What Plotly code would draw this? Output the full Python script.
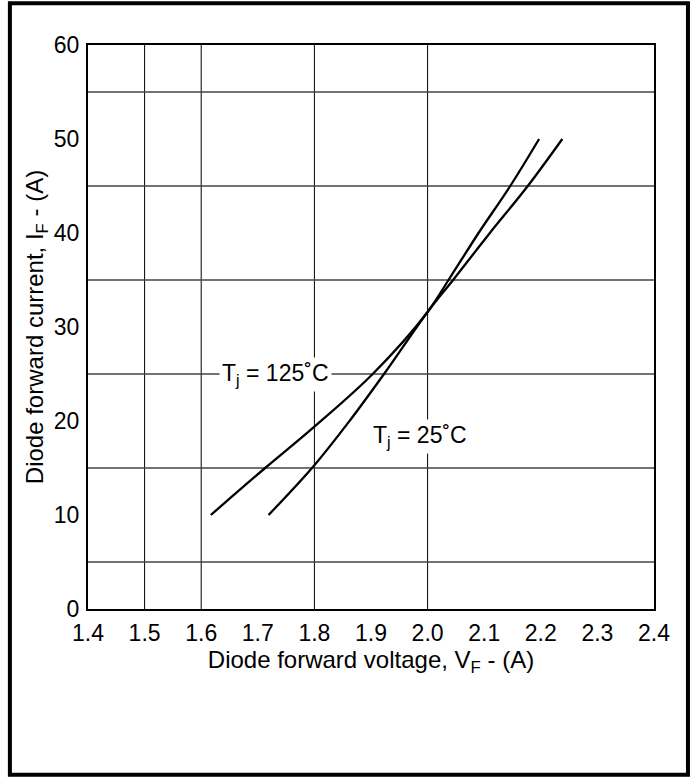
import plotly.graph_objects as go

# 125 C curve
v_125 = [1.617, 1.713, 1.800, 1.903, 2.000, 2.037, 2.090, 2.146, 2.197]
i_125 = [10.0, 15.0, 19.4, 25.0, 31.6, 35.0, 40.0, 45.0, 50.0]

# 25 C curve
v_25 = [1.719, 1.800, 1.862, 1.923, 2.000, 2.045, 2.110, 2.177, 2.238]
i_25 = [10.0, 15.3, 20.0, 25.0, 31.6, 35.0, 40.0, 45.0, 50.0]

x_ticks = [1.4, 1.5, 1.6, 1.7, 1.8, 1.9, 2.0, 2.1, 2.2, 2.3, 2.4]
y_ticks = [0, 10, 20, 30, 40, 50, 60]
v_grid = [1.5, 1.6, 1.8, 2.0]
h_grid = [5, 15, 25, 35, 45, 55]

FONT = "Liberation Sans, Arial, sans-serif"

fig = go.Figure()
fig.add_trace(go.Scatter(x=v_125, y=i_125, mode="lines", line_shape="spline",
                         line=dict(color="black", width=2.3), name="125"))
fig.add_trace(go.Scatter(x=v_25, y=i_25, mode="lines", line_shape="spline",
                         line=dict(color="black", width=2.3), name="25"))

# irregular grid
for gx in v_grid:
    fig.add_shape(type="line", xref="x", yref="paper", x0=gx, x1=gx, y0=0, y1=1,
                  line=dict(color="black", width=1), layer="below")
for gy in h_grid:
    fig.add_shape(type="line", xref="paper", yref="y", x0=0, x1=1, y0=gy, y1=gy,
                  line=dict(color="#444", width=1.3), layer="below")

# outer frame
fig.add_shape(type="rect", xref="paper", yref="paper",
              x0=-0.138, x1=1.060, y0=-0.294, y1=1.074,
              line=dict(color="black", width=4))

fig.add_annotation(x=1.6314, y=25.0, text="T<sub>j</sub> = 125˚C", showarrow=False,
                   xanchor="left", yanchor="middle", bgcolor="white", borderpad=2,
                   font=dict(size=23, color="black"))
fig.add_annotation(x=1.898, y=18.3, text="T<sub>j</sub> = 25˚C", showarrow=False,
                   xanchor="left", yanchor="middle", bgcolor="white", borderpad=2,
                   font=dict(size=23, color="black"))

fig.update_xaxes(range=[1.4, 2.4], tickvals=x_ticks,
                 ticktext=[f"{t:.1f}" for t in x_ticks],
                 showgrid=False, zeroline=False, showline=True, mirror=True,
                 linecolor="black", linewidth=2, ticks="", ticklabelstandoff=2,
                 title=dict(text="Diode forward voltage, V<sub>F</sub> - (A)",
                            standoff=6, font=dict(size=24)))
fig.update_yaxes(range=[0, 60], tickvals=y_ticks,
                 showgrid=False, zeroline=False, showline=True, mirror=True,
                 linecolor="black", linewidth=2, ticks="", ticklabelstandoff=2,
                 title=dict(text="Diode forward current, I<sub>F</sub> - (A)",
                            standoff=3, font=dict(size=24)))

fig.update_layout(width=696, height=779,
                  margin=dict(l=88, r=42, t=45, b=170, autoexpand=False),
                  paper_bgcolor="white", plot_bgcolor="white",
                  showlegend=False,
                  font=dict(family=FONT, size=23, color="black"))

fig.write_html("out.html", config={"displayModeBar": False},
               post_script="document.body.style.margin='0px';")
